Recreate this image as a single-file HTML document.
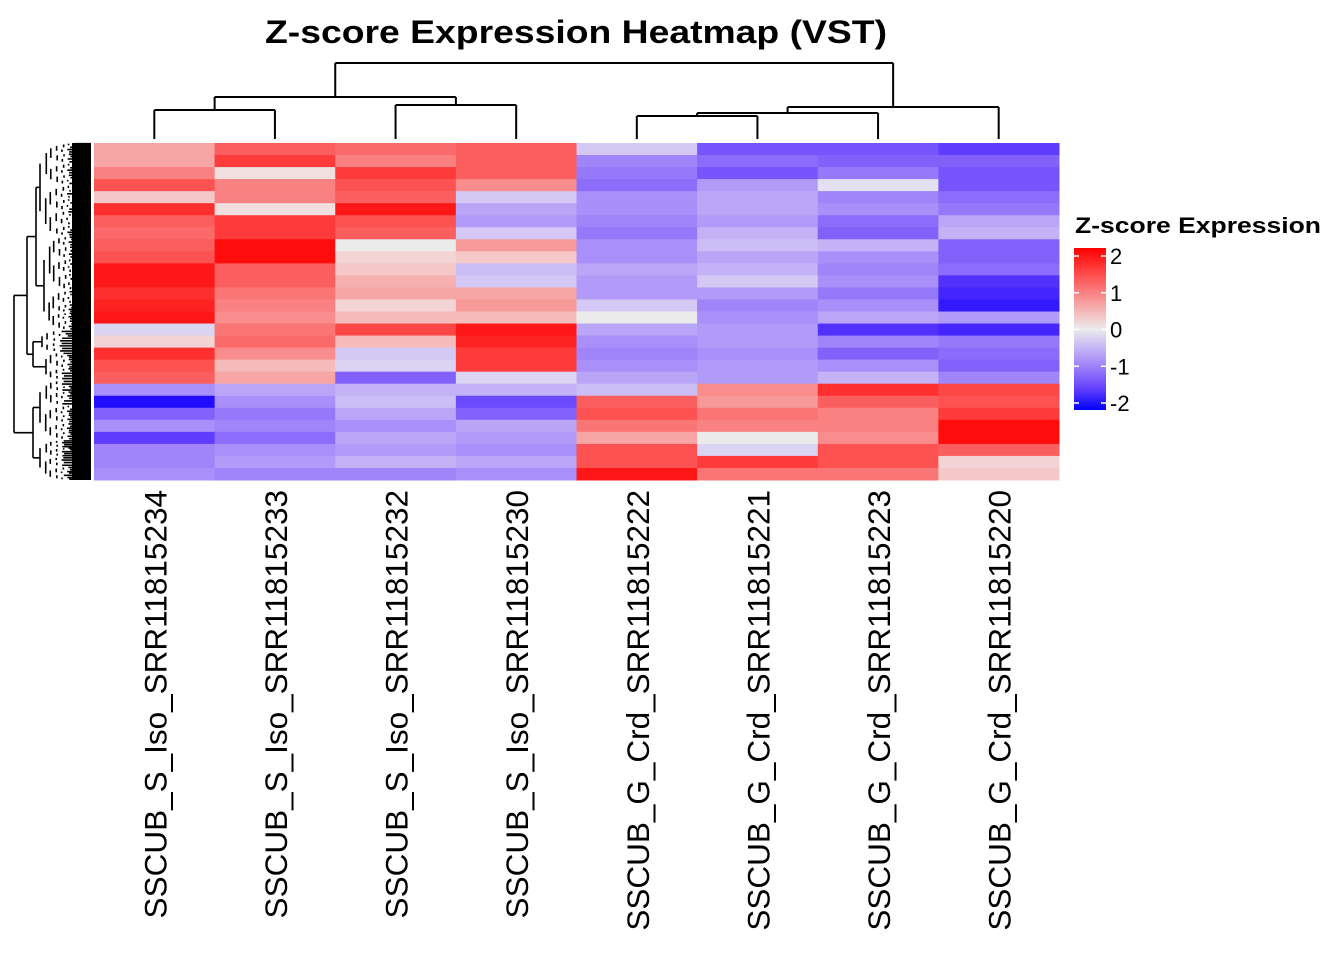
<!DOCTYPE html>
<html><head><meta charset="utf-8"><style>
html,body{margin:0;padding:0;background:#fff;}
svg{display:block;font-family:"Liberation Sans",Arial,sans-serif;}
</style></head><body>
<svg id="chart" width="1344" height="960" viewBox="0 0 1344 960" xmlns="http://www.w3.org/2000/svg">
<text x="576" y="43" text-anchor="middle" font-size="32" font-weight="bold" textLength="622" lengthAdjust="spacingAndGlyphs">Z-score Expression Heatmap (VST)</text>
<g id="col-dend" stroke="#000" stroke-width="2" fill="none"></g>
<g id="row-dend" stroke="#000" stroke-width="1.6" fill="none"></g>
<g id="cells"></g>
<g id="labels"></g>
<g id="legend">
<text x="1075" y="233" font-size="22" font-weight="bold" textLength="246" lengthAdjust="spacingAndGlyphs">Z-score Expression</text>
</g>
</svg>
<script>
const samples = ["SSCUB_S_Iso_SRR11815234","SSCUB_S_Iso_SRR11815233","SSCUB_S_Iso_SRR11815232","SSCUB_S_Iso_SRR11815230","SSCUB_G_Crd_SRR11815222","SSCUB_G_Crd_SRR11815221","SSCUB_G_Crd_SRR11815223","SSCUB_G_Crd_SRR11815220"];
const col1 = [0.6,0.6,0.9,1.3,0.3,1.6,1.2,1.1,1.2,1.3,1.8,1.8,1.6,1.7,1.8,-0.2,0.2,1.6,1.3,1.2,-0.8,-1.9,-1.2,-0.8,-1.5,-0.9,-0.9,-0.8];
const col2 = [1.2,1.5,0.1,0.9,0.9,0.1,1.5,1.5,1.9,1.9,1.2,1.2,1.0,0.9,0.8,1.0,1.1,0.8,0.4,0.6,-0.6,-0.8,-1.0,-0.9,-1.1,-0.8,-0.7,-0.9];
const col3 = [1.1,0.9,1.5,1.3,1.2,1.8,1.3,1.2,0.0,0.2,0.3,0.5,0.6,0.2,0.4,1.4,0.4,-0.3,-0.2,-1.2,-0.5,-0.4,-0.6,-0.8,-0.6,-0.7,-0.5,-0.9];
const col4 = [1.2,1.2,1.2,0.8,-0.3,-0.6,-0.7,-0.3,0.7,0.3,-0.4,-0.3,0.6,0.7,0.4,1.8,1.7,1.5,1.5,-0.2,-0.5,-1.4,-1.2,-0.6,-0.7,-0.8,-0.6,-0.8];
const col5 = [-0.3,-0.9,-1.0,-1.1,-0.8,-0.8,-0.9,-1.0,-0.8,-0.8,-0.6,-0.7,-0.7,-0.3,0.0,-0.6,-0.8,-0.9,-0.8,-0.6,-0.4,1.2,1.3,1.0,0.6,1.3,1.3,1.8];
const col6 = [-1.3,-1.1,-1.3,-0.7,-0.6,-0.6,-0.7,-0.5,-0.4,-0.6,-0.5,-0.3,-0.7,-0.9,-0.8,-0.7,-0.7,-0.8,-0.7,-0.7,0.8,0.7,1.0,0.9,0.0,-0.2,1.5,1.0];
const col7 = [-1.3,-1.2,-1.0,-0.1,-0.9,-0.8,-1.1,-1.2,-0.5,-0.8,-0.9,-0.8,-1.0,-0.8,-0.6,-1.6,-0.9,-1.2,-0.8,-0.5,1.6,1.2,0.9,0.9,0.8,1.3,1.3,1.0];
const col8 = [-1.5,-1.2,-1.3,-1.3,-1.1,-1.0,-0.6,-0.5,-1.2,-1.2,-1.1,-1.6,-1.7,-1.8,-0.7,-1.7,-1.0,-1.1,-1.2,-0.9,1.4,1.3,1.5,1.9,1.9,1.2,0.2,0.3];
const legendTicks = [2,1,0,-1,-2];

const NS="http://www.w3.org/2000/svg";
const HX0=94,HX1=1059,HY0=143,HY1=480;
const cols=[col1,col2,col3,col4,col5,col6,col7,col8];
const nRows=col1.length;
const colW=(HX1-HX0)/cols.length, rowH=(HY1-HY0)/nRows;
const xOf=i=>HX0+i*colW, yOf=r=>HY0+r*rowH;
function color(v){
  v=Math.max(-2,Math.min(2,v));
  let c;
  if(v>=0){const t=v/2;c=[235+20*Math.pow(t,0.4),235*(1-t),235*(1-t)];}
  else{const t=-v/2;c=[235*Math.pow(1-t,0.65),235*Math.pow(1-t,0.97),235+20*Math.pow(t,0.4)];}
  return `rgb(${c.map(Math.round).join(",")})`;
}
function mk(tag,attrs,parent){const e=document.createElementNS(NS,tag);for(const k in attrs)e.setAttribute(k,attrs[k]);parent.appendChild(e);return e;}
const cells=document.getElementById('cells');
cols.forEach((col,ci)=>{col.forEach((v,ri)=>{
  const r=mk('rect',{x:xOf(ci),y:yOf(ri),width:colW+0.5,height:rowH+0.5,fill:color(v)},cells);
  
  
});});
const lab=document.getElementById('labels');
samples.forEach((s,i)=>{
  const cx=xOf(i)+colW/2+12;
  const t=mk('text',{transform:`translate(${cx},490) rotate(-90)`,'text-anchor':'end','font-size':'31.5'},lab);
  t.textContent=s;
  
  
});
const cd=document.getElementById('col-dend');
const cx=i=>xOf(i)+colW/2;
function ln(x1,y1,x2,y2,p){mk('line',{x1,y1,x2,y2},p);}
function join(a,ya,b,yb,h){ln(a,ya,a,h,cd);ln(b,yb,b,h,cd);ln(a,h,b,h,cd);return (a+b)/2;}
const L=139;
const p12=join(cx(0),L,cx(1),L,110);
const p34=join(cx(2),L,cx(3),L,105);
const pL=join(p12,110,p34,105,97);
const p56=join(cx(4),L,cx(5),L,116);
const p567=join(p56,116,cx(6),L,113);
const pR=join(p567,113,cx(7),L,107);
join(pL,97,pR,107,63);
const rd=document.getElementById('row-dend');
function rl(x1,y1,x2,y2){mk('line',{x1,y1,x2,y2},rd);}
function sub(y0,y1,x,depth){
  if(depth===0||y1-y0<3){const ym=(y0+y1)/2;rl(x,ym,91,ym);return ym;}
  const f=0.4+((depth*37+Math.round(y0))%20)/100;
  const ym=y0+(y1-y0)*f;
  const step=(80-x)/(depth+1);
  const a=sub(y0,ym,x+step*(0.8+((depth*13)%5)/10),depth-1);
  const b=sub(ym,y1,x+step*(0.8+((depth*7)%5)/10),depth-1);
  rl(x,a,x,b);
  return (a+b)/2;
}
function node(x,a,b){rl(x,a,x,b);}
const n1=sub(143,236,40,6), n2=sub(236,330,44,6);
node(36,n1,n2); const u1=(n1+n2)/2;
const n3=sub(330,352,42,5), n4=sub(352,380,46,5);
node(33,n3,n4); const u2=(n3+n4)/2;
rl(36,n1,40,n1);rl(36,n2,44,n2);rl(33,n3,42,n3);rl(33,n4,46,n4);
rl(27,u1,36,u1);rl(27,u2,33,u2);node(27,u1,u2);const U=(u1+u2)/2;
const m1=sub(380,440,40,6), m2=sub(440,480,40,6);
rl(33,m1,40,m1);rl(33,m2,40,m2);node(33,m1,m2);const D=(m1+m2)/2;
rl(14,U,27,U);rl(14,D,33,D);node(14,U,D);
mk('rect',{x:72,y:143,width:19,height:337,fill:'#000',stroke:'none'},rd);
const lg=document.getElementById('legend');
const defs=mk('defs',{},lg);
const gr=mk('linearGradient',{id:'lgGrad',x1:0,y1:0,x2:0,y2:1},defs);
[2,1.5,1,0.5,0,-0.5,-1,-1.5,-2].forEach((v,i)=>{mk('stop',{offset:(i*12.5)+'%','stop-color':color(v)},gr);});
const LB0=248,LB1=410;
const lgBar=mk('rect',{x:1074,y:LB0,width:32,height:LB1-LB0,fill:'url(#lgGrad)'},lg);


const ly=v=>256+(2-v)/4*(403-256);
legendTicks.forEach(v=>{
  const y=ly(v);
  mk('line',{x1:1074,y1:y,x2:1079,y2:y,stroke:'#fff','stroke-width':1.5},lg);
  mk('line',{x1:1101,y1:y,x2:1106,y2:y,stroke:'#fff','stroke-width':1.5},lg);
  const t=mk('text',{x:1110,y:y+8,'font-size':22},lg);
  t.textContent=String(v);
  
  
});
</script>
</body></html>
